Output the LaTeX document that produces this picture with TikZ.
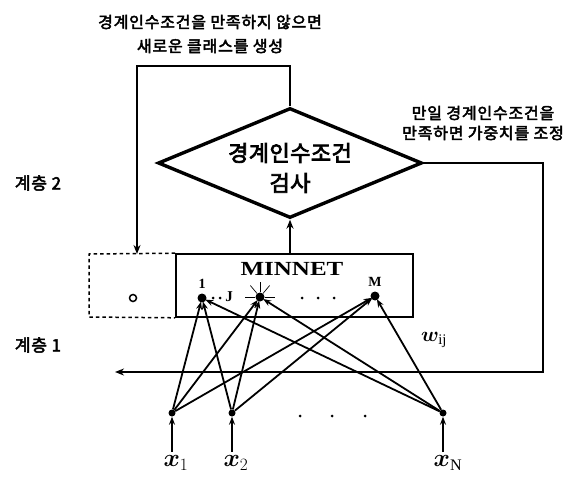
\documentclass[tikz,border=0pt]{standalone}
\usepackage{bm}
\usepackage{fontspec}
\setmainfont{Liberation Serif}
\newfontfamily\krb{Noto Sans CJK KR}[FakeBold=3,LetterSpace=5]
\newfontfamily\krbig{Noto Sans CJK KR}[FakeBold=3.5,LetterSpace=2]
\newfontfamily\mnfont{Liberation Serif}[FakeStretch=1.25]
\usetikzlibrary{arrows.meta,shapes.geometric}
\begin{document}
\begin{tikzpicture}[x=1pt,y=-1pt,
  conn/.style={line width=1.8pt,-{Stealth[length=8pt,width=6pt]}},
  ln/.style={line width=1.6pt},
  inp/.style={circle,fill=black,inner sep=0pt,minimum size=7pt},
  hid/.style={circle,fill=black,inner sep=0pt,minimum size=9pt},
  krtext/.style={font=\krb\fontsize{16}{18}\selectfont,inner sep=0pt},
  ray/.style={line width=0.7pt},
  smalldot/.style={circle,fill=black,inner sep=0pt,minimum size=3pt},
  xlab/.style={font=\fontsize{23}{23}\selectfont,inner sep=0pt},
]
\useasboundingbox (0,0) rectangle (575,478);

% texts
\node[krtext] (top1) at (210,22) {경계인수조건을 만족하지 않으면};
\node[krtext] (top2) at (210,46) {새로운 클래스를 생성};
\node[krtext] (rt1) at (483,113) {만일 경계인수조건을};
\node[krtext] (rt2) at (483,133) {만족하면 가중치를 조정};
\node[krtext,font=\krb\fontsize{17}{18}\selectfont] (lay2) at (38,183) {계층 2};
\node[krtext,font=\krb\fontsize{17}{18}\selectfont] (lay1) at (38,345) {계층 1};

% diamond
\node[diamond,draw,line width=3.4pt,minimum width=264pt,minimum height=110pt,inner sep=0pt] (chk) at (290,163) {};
\node[font=\krbig\fontsize{22}{30}\selectfont,align=center,inner sep=0pt] (chktext) at (290,168) {경계인수조건\\검사};

% MINNET box and dashed box
\node[draw,line width=1.6pt,minimum width=237pt,minimum height=63pt,inner sep=0pt] (net) at (294.5,285.5) {};
\coordinate (dtl) at (89,254);
\coordinate (dbl) at (89,317);
\draw[line width=1.5pt,dash pattern=on 3.5pt off 3pt] (net.north west) -- (dtl) -- (dbl) -- (net.south west);
\node[font=\mnfont\bfseries\fontsize{20}{20}\selectfont,inner sep=0pt] (mn) at (292,269) {MINNET};
\node[circle,draw,line width=1.5pt,inner sep=0pt,minimum size=7pt] (o) at (133,298) {};

% hidden nodes
\node[hid] (n1) at (202,298) {};
\node[hid] (nJ) at (260,297) {};
\node[hid] (nM) at (375,296) {};
\node[font=\bfseries\fontsize{14}{14}\selectfont,inner sep=0pt] (l1) at (202,284) {1};
\node[font=\bfseries\fontsize{14}{14}\selectfont,inner sep=0pt] (lM) at (375,282) {M};
\node[font=\bfseries\fontsize{15}{15}\selectfont,inner sep=0pt] (lJ) at (229,297) {J};
\node[smalldot] (d1) at (213,298) {};
\node[smalldot] (d2) at (220,298) {};
\node[smalldot] (d3) at (302,298) {};
\node[smalldot] (d4) at (318,298) {};
\node[smalldot] (d5) at (334,298) {};

% starburst at J
\foreach \a in {0,-50,-90,-130,180}
  \draw[ray] (nJ) -- ++(\a:15);

% input nodes
\node[inp] (i1) at (172,413) {};
\node[inp] (i2) at (232,413) {};
\node[inp] (iN) at (443,413) {};
\node[smalldot] (e1) at (300,416) {};
\node[smalldot] (e2) at (332,416) {};
\node[smalldot] (e3) at (365,416) {};

\node[xlab] (x1) at (176,463) {$\bm{x}_{1}$};
\node[xlab] (x2) at (236,463) {$\bm{x}_{2}$};
\node[xlab] (xN) at (448,463) {$\bm{x}_{\mathrm{N}}$};
\node[font=\fontsize{21}{21}\selectfont,inner sep=0pt] (w) at (434,340) {$\bm{w}_{\mathrm{ij}}$};

\coordinate (b1) at (172,452);
\coordinate (b2) at (232,452);
\coordinate (bN) at (443,452);
\draw[conn] (b1) -- (i1);
\draw[conn] (b2) -- (i2);
\draw[conn] (bN) -- (iN);

% connections
\foreach \s in {i1,i2,iN}
  \foreach \t in {n1,nJ,nM}
    \draw[conn,shorten >=-1pt] (\s) -- (\t);

% feedback loops
\coordinate (tr) at (290,66);
\coordinate (tl) at (137,66);
\coordinate (dtop) at (137,254);
\draw[ln,-{Stealth[length=9pt,width=7pt]}] (chk.north) -- (tr) -- (tl) -- (dtop);
\draw[ln,-{Stealth[length=9pt,width=7pt]}] (net.north -| chk.south) -- (chk.south);
\coordinate (rr) at (543,163);
\coordinate (rb) at (543,372);
\coordinate (ret) at (115,372);
\draw[ln,-{Stealth[length=9pt,width=7pt]}] (chk.east) -- (rr) -- (rb) -- (ret);
\end{tikzpicture}
\end{document}
